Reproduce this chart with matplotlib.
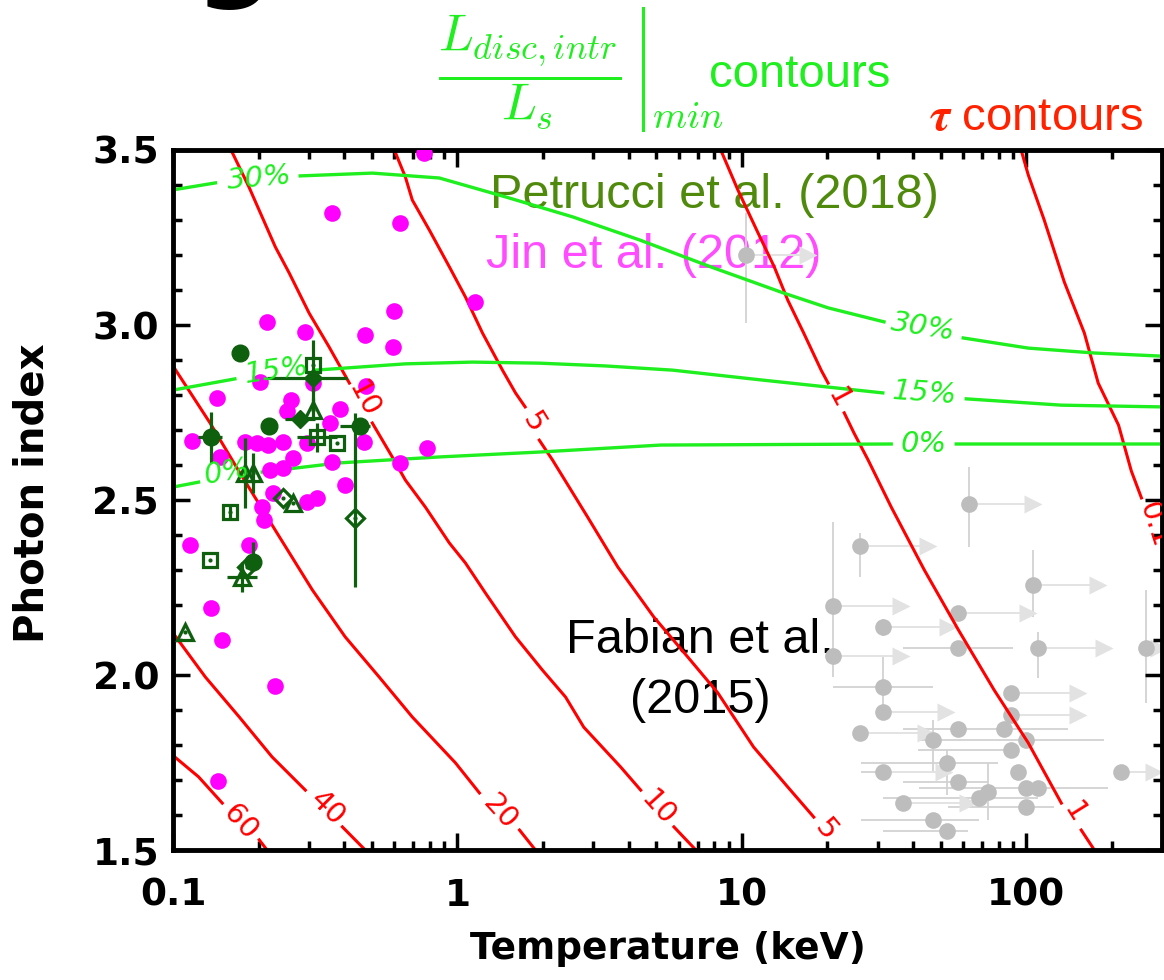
import numpy as np
import matplotlib
matplotlib.use('Agg')
import matplotlib.pyplot as plt
from matplotlib.lines import Line2D
from matplotlib.ticker import FixedLocator, FixedFormatter, LogLocator, MultipleLocator, NullFormatter

nan = np.nan

tau60_kT = [0.1, 0.123, 0.149, nan, 0.201, 0.214]
tau60_G = [1.77, 1.709, 1.634, nan, 1.529, 1.5]
tau40_kT = [0.1, 0.130, 0.171, 0.223, 0.292, nan, 0.394, 0.474]
tau40_G = [2.12, 1.994, 1.88, 1.766, 1.671, nan, 1.566, 1.5]
tau20_kT = [0.1, 0.135, 0.172, 0.232, 0.309, 0.403, 0.531, 0.694, 0.984, 1.195, nan, 1.653, 1.88]
tau20_G = [2.883, 2.72, 2.577, 2.406, 2.243, 2.109, 1.994, 1.88, 1.749, 1.663, nan, 1.557, 1.5]
tau10_kT = [0.160, 0.185, 0.229, 0.256, 0.301, 0.354, 0.417, nan, 0.502, 0.590, 0.656, 0.771, 0.937,
            1.067, 1.255, 1.60, 1.99, 2.40, 2.78, 3.75, 4.41, nan, 5.77, 6.89]
tau10_G = [3.5, 3.394, 3.223, 3.149, 3.034, 2.937, 2.834, nan, 2.72, 2.623, 2.557, 2.48, 2.377,
           2.32, 2.234, 2.109, 2.014, 1.937, 1.851, 1.737, 1.671, nan, 1.566, 1.5]
tau5_kT = [0.600, 0.656, 0.694, 0.797, 0.937, 1.067, 1.225, 1.44, 1.60, 1.73, nan, 1.94, 2.16, 2.87,
           3.66, 4.90, 6.46, 8.23, 11.0, 14.5, 17.9, nan, 22.9]
tau5_G = [3.5, 3.423, 3.357, 3.271, 3.166, 3.08, 2.977, 2.871, 2.806, 2.766, nan, 2.671, 2.614, 2.451,
          2.309, 2.166, 2.051, 1.949, 1.794, 1.68, 1.594, nan, 1.5]
tau1_kT = [8.43, 9.68, 11.4, 13.0, 14.5, 16.5, 19.0, 20.1, nan, 22.9, 24.8, 27.8, 33.5, 43.8, 57.7,
           77.1, 101.6, 132.8, nan, 156, 173.5]
tau1_G = [3.5, 3.386, 3.263, 3.166, 3.071, 2.977, 2.871, 2.834, nan, 2.749, 2.691, 2.614, 2.48, 2.30,
          2.129, 1.957, 1.806, 1.634, nan, 1.557, 1.5]
tau01_kT = [95.9, 101.6, 115.6, 136, 160, 179, 211, 234, 254]
tau01_G = [3.5, 3.429, 3.30, 3.123, 2.977, 2.834, 2.714, 2.583, 2.506]

tau_labels = ['60', '40', '20', '10', '10', '5', '5', '1', '1', '0.1']
tau_label_kT = [0.172, 0.348, 1.41, 0.467, 5.06, 1.85, 19.8, 21.8, 147.6, 280]
tau_label_G = [1.58, 1.62, 1.609, 2.786, 1.62, 2.72, 1.557, 2.791, 1.606, 2.429]

# ---- L_disc,intr / L_s contours (green) ----
l30_kT = [0.1, 0.141, nan, 0.280, 0.502, 0.864, 1.476, 2.54, 4.37, 7.78, 14.06, 20.1, 31.6, nan,
          60.0, 101.6, 173.5, 300]
l30_G = [3.386, 3.406, nan, 3.426, 3.434, 3.42, 3.366, 3.309, 3.243, 3.166, 3.091, 3.049, 3.009, nan,
         2.963, 2.934, 2.92, 2.911]
l15_kT = [0.1, 0.165, nan, 0.316, 0.656, 1.13, 1.94, 3.32, 5.71, 11.7, 31.3, nan, 61.5, 132.8, 300]
l15_G = [2.814, 2.846, nan, 2.871, 2.889, 2.894, 2.891, 2.883, 2.871, 2.843, 2.806, nan, 2.789, 2.771, 2.766]
l0_kT = [0.1, 0.123, nan, 0.206, 0.384, 0.864, 1.94, 5.19, 33.5, nan, 56.7, 300]
l0_G = [2.537, 2.551, nan, 2.58, 2.606, 2.623, 2.637, 2.657, 2.66, nan, 2.66, 2.66]

ld_labels = ['30%', '30%', '15%', '15%', '0%', '0%']
ld_label_kT = [0.202, 43.4, 0.232, 43.8, 0.155, 43.4]
ld_label_G = [3.42, 2.994, 2.871, 2.806, 2.58, 2.66]

# ---- Jin et al. (2012) ----
jin_kT = [0.765, 0.363, 0.630, 1.157, 0.600, 0.214, 0.292, 0.474, 0.595, 0.202, 0.311, 0.478, 0.143,
          0.260, 0.387, 0.252, 0.357, 0.117, 0.179, 0.198, 0.216, 0.244, 0.296, 0.470, 0.784, 0.146,
          0.265, 0.363, 0.220, 0.244, 0.630, 0.403, 0.225, 0.296, 0.321, 0.206, 0.209, 0.115, 0.185,
          0.136, 0.149, 0.229, 0.144]
jin_G = [3.49, 3.32, 3.291, 3.066, 3.04, 3.009, 2.98, 2.971, 2.937, 2.837, 2.834, 2.826, 2.791,
         2.786, 2.76, 2.754, 2.72, 2.669, 2.666, 2.663, 2.657, 2.666, 2.663, 2.666, 2.649, 2.623,
         2.62, 2.609, 2.586, 2.591, 2.606, 2.543, 2.52, 2.494, 2.506, 2.48, 2.443, 2.371, 2.371,
         2.191, 2.10, 1.969, 1.697]

# ---- Petrucci et al. (2018) ----
pet_sym = ['circle', 'circle', 'circle', 'circle', 'circle', 'diamond', 'diamond',
           'square', 'square', 'square', 'square', 'square',
           'triangle', 'triangle', 'triangle', 'triangle', 'triangle', 'triangle',
           'open diamond', 'open diamond', 'open diamond']
pet_kT = [0.172, 0.218, 0.136, 0.455, 0.191, 0.280, 0.311, 0.311, 0.321, 0.378, 0.159, 0.135,
          0.311, 0.179, 0.191, 0.265, 0.175, 0.110, 0.244, 0.437, 0.182]
pet_G = [2.92, 2.711, 2.68, 2.711, 2.323, 2.731, 2.849, 2.886, 2.68, 2.663, 2.466, 2.329,
         2.757, 2.577, 2.577, 2.491, 2.28, 2.123, 2.506, 2.449, 2.309]
pet_kT_lo = [0.172, 0.218, 0.1225, 0.387, 0.191, 0.248, 0.214, 0.311, 0.273, 0.378, 0.159, 0.135,
             0.311, 0.179, 0.191, 0.265, 0.155, 0.110, 0.244, 0.437, 0.182]
pet_kT_hi = [0.172, 0.218, 0.149, 0.494, 0.191, 0.316, 0.410, 0.311, 0.378, 0.378, 0.159, 0.135,
             0.311, 0.179, 0.191, 0.265, 0.198, 0.110, 0.244, 0.437, 0.182]
pet_G_lo = [2.92, 2.711, 2.606, 2.711, 2.323, 2.731, 2.757, 2.886, 2.637, 2.663, 2.446, 2.329,
            2.73, 2.477, 2.52, 2.491, 2.237, 2.123, 2.506, 2.251, 2.309]
pet_G_hi = [2.92, 2.711, 2.751, 2.711, 2.38, 2.731, 2.957, 2.886, 2.72, 2.663, 2.486, 2.329,
            2.79, 2.677, 2.634, 2.491, 2.323, 2.123, 2.506, 2.749, 2.309]

# ---- Fabian et al. (2015); fab_lim = arrow tip for lower limits ----
fab_kT = [63.0, 26.0, 20.9, 31.4, 20.9, 31.4, 31.4, 26.0, 57.6, 57.6, 57.6, 31.4, 36.9, 47.1, 52.7,
          47.1, 52.7, 57.6, 68.3, 73.5, 88.5, 88.5, 83.7, 88.5, 100, 93.7, 100, 110.2, 100, 216,
          264.6, 105.8, 110.2, 10.33]
fab_G = [2.489, 2.369, 2.197, 2.137, 2.054, 1.966, 1.894, 1.834, 2.177, 2.077, 1.846, 1.723, 1.634,
         1.586, 1.554, 1.814, 1.749, 1.694, 1.649, 1.666, 1.949, 1.886, 1.846, 1.786, 1.814, 1.723,
         1.677, 1.677, 1.623, 1.723, 2.077, 2.257, 2.077, 3.2]
fab_kT_lo = [63.0, 26.0, 20.9, 31.4, 20.9, 20.9, 31.4, 26.0, 57.6, 36.9, 36.9, 26.2, 36.9, 26.2, 31.4,
             47.1, 26.2, 36.9, 31.4, 73.5, 88.5, 88.5, 83.7, 41.7, 41.7, 93.7, 42.0, 110.2, 53.1, 216,
             264.6, 105.8, 110.2, 10.33]
fab_kT_hi = [63.0, 26.0, 20.9, 31.4, 20.9, 47.1, 31.4, 26.0, 57.6, 90.0, 140.6, 31.4, 36.9, 68.3, 62.5,
             47.1, 79.4, 73.5, 110.2, 73.5, 88.5, 88.5, 83.7, 91.5, 188, 93.7, 194, 110.2, 125, 216,
             264.6, 105.8, 110.2, 10.33]
fab_G_lo = [2.366, 2.28, 2.12, 2.11, 1.994, 1.871, 1.894, 1.834, 2.177, 2.077, 1.846, 1.723, 1.634,
            1.586, 1.554, 1.72, 1.657, 1.694, 1.649, 1.586, 1.949, 1.886, 1.846, 1.786, 1.814, 1.723,
            1.677, 1.677, 1.61, 1.723, 1.92, 2.166, 1.991, 3.006]
fab_G_hi = [2.594, 2.406, 2.437, 2.16, 2.12, 2.051, 1.894, 1.834, 2.177, 2.077, 1.846, 1.723, 1.634,
            1.586, 1.554, 1.871, 1.786, 1.694, 1.649, 1.749, 1.949, 1.886, 1.846, 1.786, 1.814, 1.723,
            1.677, 1.677, 1.64, 1.723, 2.243, 2.357, 2.123, 3.32]
fab_lim = [105.8, 45.2, 36.3, 53.1, 36.3, nan, 52.2, 44.5, 101.6, nan, nan, 51.4, 62.5, nan, nan,
           nan, nan, nan, nan, nan, 152, 152, nan, nan, nan, nan, nan, nan, nan, 282,
           292, 179, 187, 17.1]

xtick_vals = [0.1, 1, 10, 100]
xtick_labels = ['0.1', '1', '10', '100']
ytick_vals = [1.5, 2.0, 2.5, 3.0, 3.5]
ytick_labels = ['1.5', '2.0', '2.5', '3.0', '3.5']

RED = '#ff0000'
LIME = '#1fee1f'
DKGREEN = '#0e5f0e'

plt.rcParams['mathtext.fontset'] = 'cm'

fig = plt.figure(figsize=(11.64, 9.8), dpi=100)
ax = fig.add_axes([173 / 1164, 130 / 980, 989 / 1164, 700 / 980])
ax.set_xscale('log')
ax.set_xlim(0.1, 300)
ax.set_ylim(1.5, 3.5)

# Fabian points (grey, bottom layer)
fk = np.array(fab_kT); fg = np.array(fab_G)
ax.errorbar(fk, fg, xerr=[fk - np.array(fab_kT_lo), np.array(fab_kT_hi) - fk],
            yerr=[fg - np.array(fab_G_lo), np.array(fab_G_hi) - fg],
            fmt='none', ecolor='#d2d2d2', elinewidth=1.3, capsize=0, zorder=1)
lim = np.array(fab_lim)
m = ~np.isnan(lim)
ax.hlines(fg[m], fk[m], lim[m], color='#e3e3e3', lw=1.4, zorder=1)
ax.plot(lim[m], fg[m], '>', color='#e2e2e2', ms=13, mec='none', ls='none', zorder=1)
ax.plot(fk, fg, 'o', color='#bdbdbd', ms=12, mec='none', ls='none', zorder=1.2)

# contour curves
for kx, gy in [(tau60_kT, tau60_G), (tau40_kT, tau40_G), (tau20_kT, tau20_G), (tau10_kT, tau10_G),
               (tau5_kT, tau5_G), (tau1_kT, tau1_G), (tau01_kT, tau01_G)]:
    ax.plot(kx, gy, color=RED, lw=2.2, zorder=2)
for kx, gy in [(l30_kT, l30_G), (l15_kT, l15_G), (l0_kT, l0_G)]:
    ax.plot(kx, gy, color=LIME, lw=2.4, zorder=2)

tau_rot = [-48, -45, -48, -62, -48, -58, -50, -62, -58, -72]
for s, kx, gy, r in zip(tau_labels, tau_label_kT, tau_label_G, tau_rot):
    ax.text(kx, gy, s, color=RED, fontsize=21, rotation=r, rotation_mode='anchor',
            ha='center', va='center', zorder=5, clip_on=True)
ld_rot = [5, -9, 8, -4, 10, 0]
for s, kx, gy, r in zip(ld_labels, ld_label_kT, ld_label_G, ld_rot):
    ax.text(kx, gy, s, color=LIME, fontsize=21, rotation=r, rotation_mode='anchor',
            ha='center', va='center', zorder=5, style='italic')

# Jin points
ax.plot(jin_kT, jin_G, 'o', color='#ff00ff', ms=12, mec='none', ls='none', zorder=3)

# Petrucci points
pk = np.array(pet_kT); pg = np.array(pet_G)
ax.errorbar(pk, pg, xerr=[pk - np.array(pet_kT_lo), np.array(pet_kT_hi) - pk],
            yerr=[pg - np.array(pet_G_lo), np.array(pet_G_hi) - pg],
            fmt='none', ecolor=DKGREEN, elinewidth=2.3, capsize=0, zorder=4)
styles = {'circle': ('o', 12, True), 'diamond': ('D', 9, True), 'square': ('s', 10, False),
          'triangle': ('^', 11, False), 'open diamond': ('D', 9, False)}
for name, (mk, ms, filled) in styles.items():
    sel = [i for i, s in enumerate(pet_sym) if s == name]
    if filled:
        ax.plot(pk[sel], pg[sel], mk, color=DKGREEN, ms=ms, mec=DKGREEN, ls='none', zorder=4)
    else:
        ax.plot(pk[sel], pg[sel], mk, mfc='none', mec=DKGREEN, mew=2.3, ms=ms, ls='none', zorder=4)
        ax.plot(pk[sel], pg[sel], '.', color=DKGREEN, ms=4, ls='none', zorder=4)

# source annotations
ax.text((490 - 173) / 989, (850 - 208) / 700, 'Petrucci et al. (2018)', transform=ax.transAxes,
        color='#4f8a0c', fontsize=35, family='Liberation Sans', va='baseline', zorder=0.5)
ax.text((486 - 173) / 989, (850 - 268) / 700, 'Jin et al. (2012)', transform=ax.transAxes,
        color='#ff4cff', fontsize=35, family='Liberation Sans', va='baseline', zorder=0.5)
ax.text((700 - 173) / 989, (850 - 653) / 700, 'Fabian et al.', transform=ax.transAxes,
        color='black', fontsize=35, family='Liberation Sans', ha='center', va='baseline', zorder=0.5)
ax.text((700 - 173) / 989, (850 - 713) / 700, '(2015)', transform=ax.transAxes,
        color='black', fontsize=35, family='Liberation Sans', ha='center', va='baseline', zorder=0.5)

# axes styling
for sp in ax.spines.values():
    sp.set_linewidth(3.5)
ax.xaxis.set_major_locator(FixedLocator(xtick_vals))
ax.xaxis.set_major_formatter(FixedFormatter(xtick_labels))
ax.xaxis.set_minor_locator(LogLocator(base=10, subs=np.arange(2, 10)))
ax.xaxis.set_minor_formatter(NullFormatter())
ax.yaxis.set_major_locator(FixedLocator(ytick_vals))
ax.yaxis.set_major_formatter(FixedFormatter(ytick_labels))
ax.yaxis.set_minor_locator(MultipleLocator(0.1))
ax.tick_params(which='both', direction='in', top=True, right=True, width=2.5, color='black')
ax.tick_params(which='major', length=12)
ax.tick_params(which='minor', length=6.5)
ax.tick_params(axis='x', which='major', pad=20, labelsize=27)
ax.tick_params(axis='y', which='major', pad=10, labelsize=27)
for lab in ax.get_xticklabels() + ax.get_yticklabels():
    lab.set_fontweight('bold')
ax.set_xlabel('Temperature (keV)', fontsize=27, fontweight='bold')
ax.xaxis.set_label_coords(0.5, -0.115)
ax.set_ylabel('Photon index', fontsize=29, fontweight='bold')
ax.yaxis.set_label_coords(-0.122, 0.51)

# header texts: L_disc,intr / L_s |_min contours, tau contours
fig.text(530 / 1164, 1 - 72 / 980, r'$\dfrac{L_{disc,intr}}{L_s}$',
         color=LIME, fontsize=37, ha='center', va='center')
fig.add_artist(Line2D([643 / 1164, 643 / 1164], [1 - 8 / 980, 1 - 130 / 980],
                      transform=fig.transFigure, color=LIME, lw=2.2))
fig.text(652 / 1164, 1 - 128 / 980, r'$min$', color=LIME, fontsize=28, va='baseline')
fig.text(709 / 1164, 1 - 87 / 980, 'contours', color=LIME, fontsize=34,
         family='Liberation Sans', va='baseline')
fig.text(929 / 1164, 1 - 130 / 980, r'$\boldsymbol{\tau}$ contours', color='#ff2200', fontsize=34,
         family='Liberation Sans', va='baseline')
fig.text(235 / 1164, 1 + 14 / 980, 'g', color='black', fontsize=80, fontweight='bold',
         ha='center', va='baseline')

fig.savefig('out.png', dpi=100)
